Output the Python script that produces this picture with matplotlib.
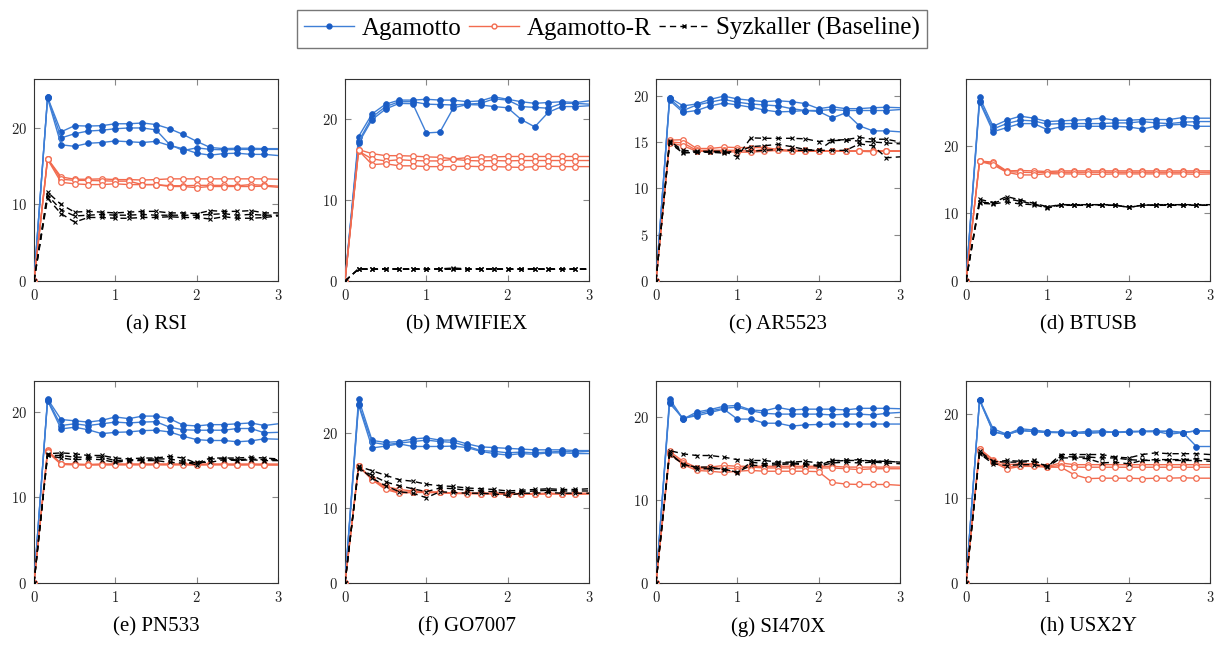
import matplotlib
matplotlib.use("Agg")
import matplotlib.pyplot as plt
from matplotlib.ticker import FuncFormatter, FixedLocator
from matplotlib.lines import Line2D

plt.rcParams['mathtext.fontset'] = 'cm'

# time axis in hours (10-minute steps); last sample at 3h is drawn without a marker
HOURS = [0, 1/6, 2/6, 3/6, 4/6, 5/6, 1, 7/6, 8/6, 9/6, 10/6, 11/6, 2, 13/6, 14/6, 15/6, 16/6, 17/6, 3]

TITLES = ["(a) RSI", "(b) MWIFIEX", "(c) AR5523", "(d) BTUSB",
          "(e) PN533", "(f) GO7007", "(g) SI470X", "(h) USX2Y"]
SERIES = ["Agamotto", "Agamotto-R", "Syzkaller (Baseline)"]

# ---------------- (a) RSI ----------------
RSI_AGAMOTTO = [
    [0, 24.0, 19.5, 20.3, 20.25, 20.3, 20.55, 20.55, 20.65, 20.45, 19.9, 19.15, 18.25, 17.45, 17.3, 17.35, 17.35, 17.3, 17.3],
    [0, 24.0, 18.7, 19.25, 19.6, 19.7, 19.9, 20.0, 20.0, 19.75, 17.85, 17.05, 17.4, 17.2, 17.15, 17.2, 17.2, 17.2, 17.2],
    [0, 23.9, 17.8, 17.6, 18.0, 18.1, 18.3, 18.2, 18.1, 18.25, 17.7, 17.3, 16.7, 16.45, 16.65, 16.7, 16.55, 16.55, 16.4],
]
RSI_AGAMOTTO_R = [
    [0, 16.0, 13.6, 13.3, 13.3, 13.35, 13.25, 13.25, 13.2, 13.25, 13.35, 13.35, 13.35, 13.35, 13.35, 13.35, 13.35, 13.35, 13.3],
    [0, 16.0, 13.3, 13.15, 13.15, 13.1, 13.05, 13.05, 12.6, 12.6, 12.45, 12.45, 12.5, 12.5, 12.5, 12.45, 12.6, 12.5, 12.4],
    [0, 15.9, 12.9, 12.7, 12.6, 12.6, 12.7, 12.6, 12.6, 12.6, 12.35, 12.35, 12.2, 12.35, 12.35, 12.35, 12.35, 12.4, 12.25],
]
RSI_SYZKALLER = [
    [0, 11.6, 10.0, 9.0, 9.1, 9.0, 8.9, 9.0, 9.1, 9.1, 8.9, 8.9, 8.8, 9.2, 9.1, 9.1, 9.2, 8.9, 8.9],
    [0, 11.2, 9.3, 8.5, 8.6, 8.7, 8.6, 8.6, 8.7, 8.6, 8.6, 8.6, 8.6, 8.7, 8.8, 8.6, 8.7, 8.6, 8.6],
    [0, 10.8, 8.8, 7.7, 8.3, 8.3, 8.2, 8.2, 8.3, 8.3, 8.4, 8.3, 8.3, 8.1, 8.4, 8.2, 8.2, 8.3, 8.5],
]

# ---------------- (b) MWIFIEX ----------------
MWIFIEX_AGAMOTTO = [
    [0, 17.8, 20.6, 21.8, 22.3, 22.3, 22.4, 22.3, 22.3, 22.1, 22.2, 22.7, 22.4, 22.1, 21.9, 22.0, 22.1, 22.0, 22.2],
    [0, 17.2, 20.2, 21.5, 22.1, 22.1, 21.8, 21.75, 21.7, 21.8, 21.9, 22.45, 22.3, 21.5, 21.4, 21.3, 21.9, 21.9, 21.8],
    [0, 17.0, 19.9, 21.2, 21.9, 21.85, 18.25, 18.35, 21.35, 21.75, 21.7, 21.5, 21.35, 19.9, 19.0, 20.8, 21.5, 21.5, 21.6],
]
MWIFIEX_AGAMOTTO_R = [
    [0, 16.2, 15.7, 15.45, 15.45, 15.4, 15.3, 15.25, 15.05, 15.2, 15.3, 15.3, 15.35, 15.35, 15.35, 15.35, 15.35, 15.35, 15.35],
    [0, 16.0, 15.05, 14.8, 14.95, 14.85, 14.8, 14.8, 15.0, 14.85, 14.8, 14.85, 14.8, 14.85, 14.85, 14.85, 14.85, 14.85, 14.85],
    [0, 16.1, 14.35, 14.45, 14.2, 14.2, 14.1, 14.1, 14.1, 14.15, 14.1, 14.1, 14.05, 14.0, 14.1, 14.15, 14.1, 14.1, 14.1],
]
MWIFIEX_SYZKALLER = [
    [0, 1.5, 1.5, 1.5, 1.5, 1.5, 1.5, 1.5, 1.6, 1.5, 1.5, 1.5, 1.5, 1.5, 1.5, 1.5, 1.5, 1.5, 1.5],
    [0, 1.45, 1.45, 1.45, 1.45, 1.45, 1.45, 1.45, 1.45, 1.45, 1.45, 1.45, 1.45, 1.45, 1.45, 1.45, 1.45, 1.45, 1.45],
    [0, 1.5, 1.45, 1.5, 1.45, 1.5, 1.45, 1.5, 1.5, 1.45, 1.5, 1.45, 1.5, 1.45, 1.5, 1.45, 1.5, 1.45, 1.5],
]

# ---------------- (c) AR5523 ----------------
AR5523_AGAMOTTO = [
    [0, 19.8, 18.9, 19.1, 19.6, 19.95, 19.65, 19.5, 19.35, 19.45, 19.35, 19.15, 18.6, 18.8, 18.6, 18.6, 18.7, 18.75, 18.7],
    [0, 19.7, 18.4, 19.0, 19.3, 19.6, 19.3, 19.1, 19.0, 18.9, 18.6, 18.4, 18.4, 18.5, 18.4, 18.4, 18.4, 18.4, 18.5],
    [0, 19.5, 18.2, 18.4, 18.9, 19.2, 19.0, 18.75, 18.45, 18.25, 18.3, 18.4, 18.3, 17.6, 18.15, 16.75, 16.2, 16.2, 16.1],
]
AR5523_AGAMOTTO_R = [
    [0, 15.2, 15.25, 14.3, 14.3, 14.45, 14.4, 14.4, 14.4, 14.2, 14.1, 14.1, 14.05, 14.05, 14.05, 14.05, 14.05, 14.05, 14.05],
    [0, 15.0, 14.9, 14.1, 14.1, 14.1, 14.1, 14.0, 14.2, 14.1, 14.05, 14.05, 14.0, 14.05, 14.0, 14.0, 14.0, 14.0, 14.0],
    [0, 14.9, 14.6, 14.0, 14.0, 14.0, 13.9, 13.9, 14.0, 14.1, 14.0, 14.0, 14.0, 14.0, 14.0, 14.0, 13.95, 14.0, 14.0],
]
AR5523_SYZKALLER = [
    [0, 15.1, 14.1, 14.0, 14.0, 14.0, 13.4, 15.45, 15.4, 15.4, 15.4, 15.35, 15.05, 15.2, 15.25, 15.5, 15.3, 15.3, 15.0],
    [0, 15.0, 13.9, 13.9, 13.95, 13.9, 13.9, 14.5, 14.6, 14.75, 14.5, 14.2, 14.1, 15.15, 15.2, 15.1, 15.0, 14.9, 14.8],
    [0, 14.9, 13.8, 13.9, 13.9, 13.8, 14.1, 14.0, 14.1, 14.2, 14.1, 14.1, 14.1, 14.1, 14.1, 14.8, 14.6, 13.3, 13.4],
]

# ---------------- (d) BTUSB ----------------
BTUSB_AGAMOTTO = [
    [0, 27.2, 22.9, 23.8, 24.4, 24.1, 23.6, 23.7, 23.8, 23.9, 24.1, 23.8, 23.8, 23.9, 23.9, 23.9, 24.2, 24.1, 24.1],
    [0, 26.7, 22.5, 23.3, 23.8, 23.7, 23.2, 23.3, 23.3, 23.3, 23.3, 23.4, 23.4, 23.6, 23.4, 23.3, 23.5, 23.6, 23.6],
    [0, 26.5, 22.1, 22.7, 23.3, 23.3, 22.4, 22.8, 22.9, 22.9, 22.9, 22.9, 22.8, 22.5, 22.9, 23.1, 23.2, 22.9, 22.9],
]
BTUSB_AGAMOTTO_R = [
    [0, 17.75, 17.6, 16.3, 16.35, 16.3, 16.2, 16.3, 16.3, 16.3, 16.3, 16.3, 16.3, 16.3, 16.3, 16.3, 16.3, 16.3, 16.3],
    [0, 17.7, 17.4, 16.2, 16.1, 16.05, 16.1, 16.1, 16.1, 16.1, 16.1, 16.1, 16.1, 16.1, 16.1, 16.1, 16.1, 16.1, 16.1],
    [0, 17.7, 17.2, 16.1, 15.7, 15.7, 15.9, 15.85, 15.85, 15.8, 15.8, 15.85, 15.85, 15.85, 15.85, 15.85, 15.85, 15.8, 15.85],
]
BTUSB_SYZKALLER = [
    [0, 12.1, 11.6, 12.5, 12.0, 11.5, 11.0, 11.3, 11.3, 11.3, 11.3, 11.3, 10.9, 11.2, 11.3, 11.3, 11.3, 11.3, 11.3],
    [0, 11.7, 11.5, 12.2, 11.8, 11.4, 10.9, 11.3, 11.3, 11.3, 11.3, 11.2, 11.0, 11.2, 11.3, 11.3, 11.3, 11.2, 11.3],
    [0, 11.5, 11.4, 11.7, 11.4, 11.3, 10.8, 11.2, 11.2, 11.2, 11.2, 11.2, 10.9, 11.2, 11.2, 11.2, 11.2, 11.2, 11.2],
]

# ---------------- (e) PN533 ----------------
PN533_AGAMOTTO = [
    [0, 21.5, 19.1, 18.95, 18.8, 19.0, 19.4, 19.2, 19.5, 19.5, 19.2, 18.45, 18.35, 18.5, 18.5, 18.6, 18.7, 18.4, 18.6],
    [0, 21.4, 18.4, 18.6, 18.4, 18.6, 18.8, 18.7, 18.8, 18.85, 18.2, 17.9, 17.85, 17.85, 17.85, 18.05, 18.05, 17.55, 17.6],
    [0, 21.3, 18.0, 18.2, 17.9, 17.45, 17.6, 17.65, 17.8, 17.85, 17.65, 17.15, 16.75, 16.65, 16.65, 16.5, 16.6, 16.85, 16.8],
]
PN533_AGAMOTTO_R = [
    [0, 15.5, 13.95, 13.9, 13.85, 13.9, 13.9, 13.9, 13.9, 13.9, 13.9, 13.9, 13.9, 13.9, 13.9, 13.9, 13.9, 13.9, 13.9],
    [0, 15.4, 13.9, 13.85, 13.8, 13.85, 13.85, 13.85, 13.85, 13.85, 13.85, 13.85, 13.8, 13.85, 13.85, 13.8, 13.85, 13.8, 13.8],
    [0, 15.3, 13.85, 13.8, 13.8, 13.8, 13.8, 13.8, 13.8, 13.8, 13.8, 13.8, 13.8, 13.8, 13.8, 13.8, 13.8, 13.8, 13.8],
]
PN533_SYZKALLER = [
    [0, 15.1, 15.2, 15.1, 14.9, 14.9, 14.6, 14.5, 14.6, 14.6, 14.8, 14.6, 14.0, 14.6, 14.6, 14.6, 14.7, 14.6, 14.5],
    [0, 14.9, 14.9, 14.7, 14.7, 14.7, 14.3, 14.4, 14.4, 14.5, 14.5, 14.2, 13.8, 14.5, 14.5, 14.4, 14.5, 14.4, 14.4],
    [0, 14.9, 14.6, 14.4, 14.5, 14.4, 14.1, 14.3, 14.3, 14.3, 14.1, 14.0, 14.1, 14.1, 14.4, 14.3, 14.4, 14.3, 14.3],
]

# ---------------- (f) GO7007 ----------------
GO7007_AGAMOTTO = [
    [0, 24.6, 19.05, 18.8, 18.9, 19.25, 19.4, 19.1, 19.1, 18.6, 18.2, 18.1, 18.0, 17.9, 17.8, 17.8, 17.8, 17.7, 17.7],
    [0, 23.9, 18.8, 18.5, 18.7, 18.9, 19.1, 18.9, 18.8, 18.3, 17.7, 17.6, 17.4, 17.5, 17.4, 17.5, 17.6, 17.5, 17.6],
    [0, 23.8, 18.05, 18.3, 18.6, 18.25, 18.25, 18.25, 18.3, 18.1, 17.6, 17.3, 17.1, 17.3, 17.2, 17.4, 17.4, 17.3, 17.3],
]
GO7007_AGAMOTTO_R = [
    [0, 15.7, 13.9, 12.9, 12.5, 12.3, 12.2, 12.15, 12.0, 12.0, 12.05, 12.0, 11.95, 11.95, 11.95, 12.0, 11.95, 12.0, 12.0],
    [0, 15.65, 13.85, 12.7, 12.1, 12.2, 12.1, 12.1, 12.0, 12.0, 11.95, 11.95, 11.9, 11.9, 11.9, 11.95, 11.9, 11.9, 11.95],
    [0, 15.6, 13.8, 12.5, 12.0, 12.1, 12.1, 12.1, 11.95, 11.95, 11.9, 11.9, 11.85, 11.9, 11.85, 11.9, 11.9, 11.85, 11.9],
]
GO7007_SYZKALLER = [
    [0, 15.6, 15.0, 14.4, 13.8, 13.6, 13.2, 13.0, 12.9, 12.7, 12.6, 12.5, 12.3, 12.4, 12.5, 12.6, 12.5, 12.5, 12.6],
    [0, 15.3, 14.4, 13.5, 13.0, 12.6, 12.2, 12.7, 12.6, 12.4, 12.3, 12.2, 12.0, 12.2, 12.3, 12.4, 12.3, 12.3, 12.3],
    [0, 15.5, 14.0, 13.0, 12.2, 12.0, 11.4, 12.2, 12.1, 12.0, 12.0, 11.9, 11.7, 12.0, 12.0, 12.1, 12.0, 12.0, 12.0],
]

# ---------------- (g) SI470X ----------------
SI470X_AGAMOTTO = [
    [0, 22.25, 19.8, 20.65, 20.95, 21.35, 21.45, 20.9, 20.8, 21.2, 20.9, 21.0, 21.0, 21.0, 20.9, 21.1, 21.1, 21.1, 21.05],
    [0, 21.9, 19.8, 20.4, 20.8, 21.1, 21.25, 20.8, 20.5, 20.4, 20.4, 20.4, 20.4, 20.3, 20.4, 20.4, 20.3, 20.5, 20.6],
    [0, 21.7, 19.9, 20.2, 20.6, 21.0, 19.8, 19.8, 19.3, 19.3, 18.95, 19.1, 19.15, 19.2, 19.2, 19.2, 19.2, 19.2, 19.2],
]
SI470X_AGAMOTTO_R = [
    [0, 15.9, 14.7, 13.95, 14.0, 14.2, 14.1, 14.1, 14.1, 14.1, 14.1, 14.1, 14.1, 14.1, 14.0, 14.0, 14.0, 14.0, 14.0],
    [0, 15.7, 14.5, 13.8, 13.8, 13.9, 13.8, 14.0, 13.9, 13.9, 13.9, 13.9, 13.9, 13.9, 13.8, 13.7, 13.8, 13.8, 13.8],
    [0, 15.6, 14.3, 13.6, 13.5, 13.35, 13.5, 13.6, 13.5, 13.5, 13.5, 13.5, 13.45, 12.15, 11.95, 11.9, 11.9, 11.9, 11.8],
]
SI470X_SYZKALLER = [
    [0, 16.0, 15.6, 15.4, 15.4, 15.2, 14.9, 14.8, 14.8, 14.6, 14.6, 14.7, 14.5, 14.7, 14.8, 14.8, 14.7, 14.7, 14.6],
    [0, 15.5, 14.4, 13.8, 13.8, 13.8, 13.3, 14.6, 14.4, 14.5, 14.5, 14.4, 14.2, 14.8, 14.8, 14.9, 14.7, 14.7, 14.6],
    [0, 15.7, 14.3, 14.0, 14.0, 13.7, 13.4, 14.2, 14.2, 14.3, 14.4, 14.3, 14.1, 14.5, 14.6, 14.5, 14.6, 14.5, 14.4],
]

# ---------------- (h) USX2Y ----------------
USX2Y_AGAMOTTO = [
    [0, 21.7, 18.25, 17.6, 18.25, 18.1, 17.9, 17.85, 17.8, 17.95, 18.0, 17.8, 17.95, 17.95, 18.0, 17.9, 17.8, 18.0, 18.0],
    [0, 21.7, 17.9, 17.6, 18.0, 17.95, 17.85, 17.8, 17.7, 17.8, 17.9, 17.8, 17.85, 17.95, 17.95, 17.6, 17.8, 18.0, 18.0],
    [0, 21.6, 17.9, 17.5, 18.1, 17.9, 17.8, 17.8, 17.8, 17.7, 17.8, 17.85, 17.9, 17.9, 17.9, 18.0, 17.8, 16.15, 16.15],
]
USX2Y_AGAMOTTO_R = [
    [0, 15.9, 14.6, 14.0, 14.1, 14.1, 13.8, 14.2, 14.0, 14.0, 14.0, 14.0, 14.0, 14.0, 14.0, 14.0, 14.0, 14.0, 14.0],
    [0, 15.8, 14.4, 13.7, 13.9, 14.0, 13.75, 13.9, 13.7, 13.7, 13.7, 13.7, 13.7, 13.7, 13.7, 13.7, 13.7, 13.7, 13.7],
    [0, 15.6, 14.3, 13.5, 13.8, 13.8, 13.7, 13.7, 12.8, 12.35, 12.4, 12.4, 12.4, 12.35, 12.4, 12.4, 12.45, 12.4, 12.4],
]
USX2Y_SYZKALLER = [
    [0, 15.4, 14.3, 14.5, 14.4, 14.5, 13.8, 15.2, 15.2, 15.2, 15.2, 14.9, 14.8, 15.2, 15.4, 15.3, 15.3, 15.3, 15.2],
    [0, 15.6, 14.4, 14.3, 14.3, 14.4, 13.8, 15.0, 14.9, 14.9, 14.8, 14.8, 14.6, 14.5, 14.6, 14.6, 14.6, 14.7, 14.6],
    [0, 15.3, 14.1, 13.9, 14.0, 14.0, 13.7, 14.8, 14.8, 14.7, 14.2, 14.3, 14.1, 14.5, 14.5, 14.5, 14.5, 14.5, 14.4],
]

AGAMOTTO = [RSI_AGAMOTTO, MWIFIEX_AGAMOTTO, AR5523_AGAMOTTO, BTUSB_AGAMOTTO,
            PN533_AGAMOTTO, GO7007_AGAMOTTO, SI470X_AGAMOTTO, USX2Y_AGAMOTTO]
AGAMOTTO_R = [RSI_AGAMOTTO_R, MWIFIEX_AGAMOTTO_R, AR5523_AGAMOTTO_R, BTUSB_AGAMOTTO_R,
              PN533_AGAMOTTO_R, GO7007_AGAMOTTO_R, SI470X_AGAMOTTO_R, USX2Y_AGAMOTTO_R]
SYZKALLER = [RSI_SYZKALLER, MWIFIEX_SYZKALLER, AR5523_SYZKALLER, BTUSB_SYZKALLER,
             PN533_SYZKALLER, GO7007_SYZKALLER, SI470X_SYZKALLER, USX2Y_SYZKALLER]

Y_MAX = [26.4, 24.9, 21.8, 29.9, 23.6, 27.0, 24.4, 23.9]
Y_TICKS = [[0, 10, 20], [0, 10, 20], [0, 5, 10, 15, 20], [0, 10, 20],
           [0, 10, 20], [0, 10, 20], [0, 10, 20], [0, 10, 20]]
X_TICKS = [0, 1, 2, 3]

BLUE_LINE = '#3f7fd6'
BLUE_MARK = '#1a5cc4'
ORANGE = '#f26b4f'
BLACK = 'black'

W, H = 1224, 651
fig = plt.figure(figsize=(W / 100, H / 100), dpi=100)

lefts = [34, 345, 656, 966]
tops = [79, 381]
ax_w, ax_h = 244, 202
serif = ['Liberation Serif', 'DejaVu Serif']

mk_idx = list(range(len(HOURS) - 1))

for i in range(8):
    r, c = divmod(i, 4)
    x0 = lefts[c]
    y0 = tops[r]
    ax = fig.add_axes([x0 / W, 1 - (y0 + ax_h) / H, ax_w / W, ax_h / H])
    for run in AGAMOTTO[i]:
        ax.plot(HOURS, run, color=BLUE_LINE, lw=1.0, marker='o', ms=4.2,
                mfc=BLUE_MARK, mec=BLUE_MARK, mew=0.5, markevery=mk_idx, zorder=3)
    for run in AGAMOTTO_R[i]:
        ax.plot(HOURS, run, color=ORANGE, lw=1.0, marker='o', ms=4.0,
                mfc='white', mec=ORANGE, mew=0.9, markevery=mk_idx, zorder=4)
    for run in SYZKALLER[i]:
        ax.plot(HOURS, run, color=BLACK, lw=1.0, ls=(0, (4.5, 3)), marker='x', ms=2.8,
                mew=0.8, markevery=mk_idx, zorder=5)
    ax.set_xlim(0, 3)
    ax.set_ylim(0, Y_MAX[i])
    ax.xaxis.set_major_locator(FixedLocator(X_TICKS))
    ax.yaxis.set_major_locator(FixedLocator(Y_TICKS[i]))
    fmt = FuncFormatter(lambda v, p: r'$%d$' % int(round(v)))
    ax.xaxis.set_major_formatter(fmt)
    ax.yaxis.set_major_formatter(fmt)
    ax.tick_params(direction='in', top=True, right=True, length=4, width=0.8,
                   color='#888888', labelsize=10.5, pad=5, labelcolor='#222222')
    for s in ax.spines.values():
        s.set_color('#333333')
        s.set_linewidth(0.8)
    fig.text((x0 + ax_w / 2) / W, 1 - (y0 + ax_h + 44) / H, TITLES[i],
             ha='center', va='center', fontsize=15, family=serif)

handles = [
    Line2D([], [], color=BLUE_LINE, lw=1.0, marker='o', ms=3.5, mfc=BLUE_MARK, mec=BLUE_MARK),
    Line2D([], [], color=ORANGE, lw=1.0, marker='o', ms=3.5, mfc='white', mec=ORANGE),
    Line2D([], [], color=BLACK, lw=1.0, ls=(0, (4.5, 3)), marker='x', ms=2.5),
]
leg = fig.legend(handles, SERIES, loc='upper center', bbox_to_anchor=(0.5, 0.993), ncol=3,
                 prop={'family': serif, 'size': 18}, frameon=True, fancybox=False,
                 edgecolor='#555555', handlelength=2.0, handletextpad=0.3,
                 columnspacing=0.3, borderpad=0.3, borderaxespad=0.2, numpoints=1)
leg.get_frame().set_linewidth(1.0)

fig.savefig('out.png', dpi=100)
